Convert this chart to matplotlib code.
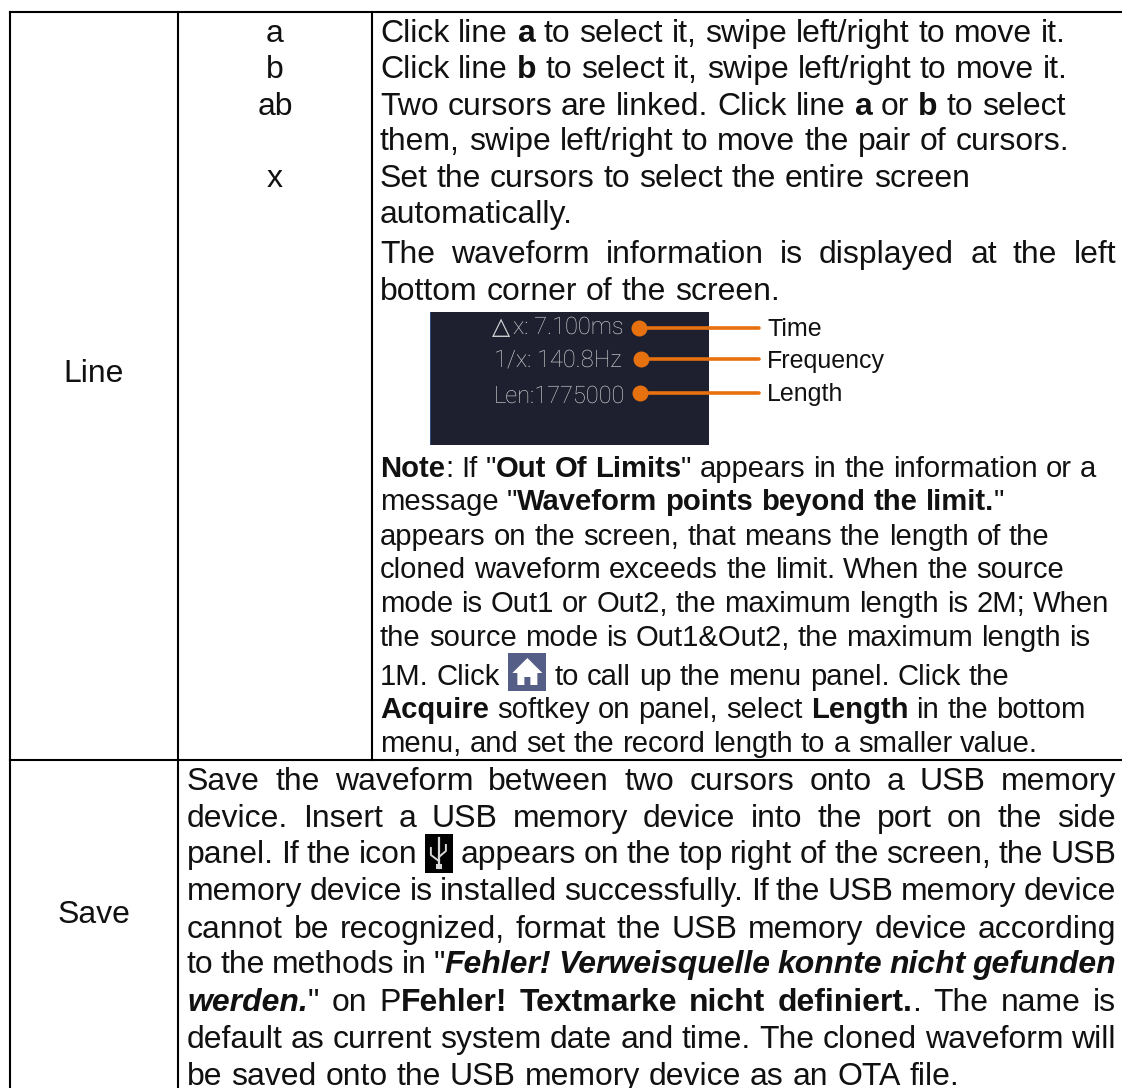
import re
import matplotlib
matplotlib.use("Agg")
import matplotlib.pyplot as plt
from matplotlib.patches import Rectangle, Polygon

plt.rcParams['font.family'] = ['Liberation Sans', 'DejaVu Sans']
plt.rcParams['text.hinting'] = 'no_autohint'

# table text, ** = bold, __ = bold italic, {x} = inline icon
row_names = ["Line", "Save"]
modes = ["a", "b", "ab", "x"]
line_desc = [
    "Click line **a** to select it, swipe left/right to move it.",
    "Click line **b** to select it, swipe left/right to move it.",
    "Two cursors are linked. Click line **a** or **b** to select",
    "them, swipe left/right to move the pair of cursors.",
    "Set the cursors to select the entire screen",
    "automatically.",
    "The waveform information is displayed at the left",
    "bottom corner of the screen.",
]
note_desc = [
    "**Note**: If \"**Out Of Limits**\" appears in the information or a",
    "message \"**Waveform points beyond the limit.**\"",
    "appears on the screen, that means the length of the",
    "cloned waveform exceeds the limit. When the source",
    "mode is Out1 or Out2, the maximum length is 2M; When",
    "the source mode is Out1&Out2, the maximum length is",
    "1M. Click {home} to call up the menu panel. Click the",
    "**Acquire** softkey on panel, select **Length** in the bottom",
    "menu, and set the record length to a smaller value.",
]
save_desc = [
    "Save the waveform between two cursors onto a USB memory",
    "device. Insert a USB memory device into the port on the side",
    "panel. If the icon {usb} appears on the top right of the screen, the USB",
    "memory device is installed successfully. If the USB memory device",
    "cannot be recognized, format the USB memory device according",
    "to the methods in \"__Fehler! Verweisquelle konnte nicht gefunden__",
    "__werden.__\" on P**Fehler! Textmarke nicht definiert.**. The name is",
    "default as current system date and time. The cloned waveform will",
    "be saved onto the USB memory device as an OTA file.",
]
panel_lines = ["x: 7.100ms", "1/x: 140.8Hz", "Len:1775000"]
panel_labels = ["Time", "Frequency", "Length"]

FS = 23.0
NOTE_FS = 21.05
RIGHT = 1116
LEFT = 380
SAVE_LEFT = 187

fig = plt.figure(figsize=(11.22, 10.88), dpi=100)
ax = fig.add_axes([0, 0, 1, 1])
ax.set_xlim(0, 1122)
ax.set_ylim(1088, 0)
ax.axis('off')
renderer = fig.canvas.get_renderer()

styles = {
    'n': dict(fontweight='normal', fontstyle='normal'),
    'b': dict(fontweight='bold', fontstyle='normal'),
    'bi': dict(fontweight='bold', fontstyle='italic'),
}
icon_w = {'{home}': 38, '{usb}': 28}


def width(s, style, fs):
    t = ax.text(0, 0, s, fontsize=fs, **styles[style])
    w = t.get_window_extent(renderer).width
    t.remove()
    return w


def parse(line):
    # split into words, each word a list of (text, style) runs
    words = [[]]
    for part in re.split(r'(\*\*.*?\*\*|__.*?__)', line):
        if part.startswith('**'):
            style, part = 'b', part[2:-2]
        elif part.startswith('__'):
            style, part = 'bi', part[2:-2]
        else:
            style = 'n'
        bits = part.split(' ')
        for i, b in enumerate(bits):
            if i > 0:
                words.append([])
            if b:
                words[-1].append((b, style))
    return [w for w in words if w]


def draw_home(x, y):
    ax.add_patch(Rectangle((x, y), 38, 38, color='#545e86', lw=0))
    ax.add_patch(Polygon([(x + 19, y + 5), (x + 34, y + 20), (x + 29, y + 20), (x + 29, y + 32),
                          (x + 22, y + 32), (x + 22, y + 24), (x + 16, y + 24), (x + 16, y + 32),
                          (x + 9, y + 32), (x + 9, y + 20), (x + 4, y + 20)], color='white', lw=0))


def draw_usb(x, y):
    ax.add_patch(Rectangle((x, y), 28, 39, color='black', lw=0))
    c = '#d8d8d8'
    ax.plot([x + 14, x + 14], [y + 4, y + 34], color=c, lw=1.6)
    ax.plot([x + 6, x + 6, x + 14], [y + 14, y + 21, y + 27], color=c, lw=1.4)
    ax.plot([x + 21, x + 21, x + 14], [y + 11, y + 17, y + 23], color=c, lw=1.4)
    ax.add_patch(Rectangle((x + 11, y + 30), 6, 5, color=c, lw=0))


def draw_line(line, y, justify=False, left=LEFT, fs=FS):
    words = parse(line)
    widths = []
    for w in words:
        if w[0][0] in icon_w:
            widths.append(icon_w[w[0][0]])
        else:
            widths.append(sum(width(s, st, fs) for s, st in w))
    gap = width('x x', 'n', fs) - width('xx', 'n', fs)
    if justify and len(words) > 1:
        gap = (RIGHT - left - sum(widths)) / (len(words) - 1)
    x = left
    for w, ww in zip(words, widths):
        if w[0][0] == '{home}':
            draw_home(x, 653)
        elif w[0][0] == '{usb}':
            draw_usb(x, 834)
        else:
            xx = x
            for s, st in w:
                ax.text(xx, y, s, fontsize=fs, va='baseline', ha='left', color='#111111', **styles[st])
                xx += width(s, st, fs)
        x += ww + gap


# table rules
for x0, y0, x1, y1 in [(10, 12, 1122, 12), (10, 12, 10, 1088), (178, 12, 178, 1088),
                       (372, 12, 372, 760), (10, 760, 1122, 760)]:
    ax.plot([x0, x1], [y0, y1], color='black', lw=1.5, solid_capstyle='projecting')

# first two columns
ax.text(94, 382, row_names[0], fontsize=FS, ha='center', va='baseline', color='#111111')
ax.text(94, 923, row_names[1], fontsize=FS, ha='center', va='baseline', color='#111111')
for m, y in zip(modes, [42, 78, 115, 187]):
    ax.text(275, y, m, fontsize=FS, ha='center', va='baseline', color='#111111')

# description cell
for line, y in zip(line_desc, [42, 78, 115, 150, 187, 223, 263, 300]):
    draw_line(line, y, justify=line.startswith('The waveform'))
for line, y in zip(note_desc, [477, 510, 545, 578, 612, 646, 685, 718, 752]):
    draw_line(line, y, fs=NOTE_FS)
save_y = [790, 827, 863, 900, 938, 973, 1011, 1048, 1085]
for i, (line, y) in enumerate(zip(save_desc, save_y)):
    draw_line(line, y, justify=i < len(save_desc) - 1, left=SAVE_LEFT)

# waveform info screenshot
ax.add_patch(Rectangle((430, 312), 279, 133, color='#1e2030', lw=0))
ax.add_patch(Rectangle((430, 312), 1.5, 133, color='#2f4a7a', lw=0))
ax.text(492, 334, "△", fontsize=17, color='#d4d4d4', va='baseline', ha='left', family='DejaVu Sans')
for s, lab, x0, base, lab_base, y, dot_x in zip(panel_lines, panel_labels, [513, 494, 494], [334, 367, 403],
                                                [336, 368, 401], [328, 359, 393], [639, 641, 640]):
    ax.text(x0, base, s, fontsize=17, color='#d4d4d4', va='baseline', ha='left',
            family='Roboto', fontweight='light')
    ax.plot([dot_x, 759], [y, y], color='#e8710f', lw=2.6, solid_capstyle='round')
    ax.plot([dot_x], [y], 'o', color='#e8710f', ms=11.5, mew=0)
    ax.text(767, lab_base, lab, fontsize=18, color='#111111', va='baseline', ha='left')

fig.savefig('out.png', dpi=100, facecolor='white')
